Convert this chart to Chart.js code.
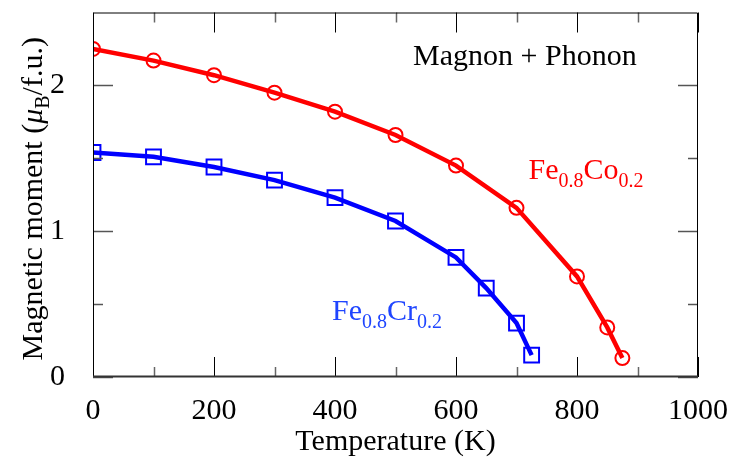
<!DOCTYPE html>
<html>
<head>
<meta charset="utf-8">
<script src="https://cdn.jsdelivr.net/npm/chart.js@4.4.0/dist/chart.umd.min.js"></script>
<style>
  html, body { margin: 0; padding: 0; background: #fff; }
  #wrap { width: 733px; height: 463px; position: relative; }
</style>
</head>
<body>
<div id="wrap"><canvas id="c" width="733" height="463"></canvas></div>
<script>
// Fe0.8Co0.2
const coTemps = [0, 100, 200, 300, 400, 500, 600, 700, 800, 850, 875];
const coMoment = [2.25, 2.17, 2.07, 1.95, 1.82, 1.66, 1.45, 1.16, 0.69, 0.34, 0.13];
// Fe0.8Cr0.2
const crTemps = [0, 100, 200, 300, 400, 500, 600, 650, 700, 725];
const crMoment = [1.54, 1.51, 1.44, 1.35, 1.23, 1.07, 0.82, 0.61, 0.37, 0.15];

const xTicks = [0, 200, 400, 600, 800, 1000];
const xMinor = [100, 300, 500, 700, 900];
const yTicks = [0, 1, 2];
const yMinor = [0.5, 1.5];

const FONT = '"Liberation Serif", "DejaVu Serif", serif';

const pts = (xs, ys) => xs.map((x, i) => ({ x: x, y: ys[i] }));

// ticks pointing inward on all four sides + frame
const frameTicks = {
    id: 'frameTicks',
    afterDatasetsDraw(chart) {
        const { ctx, chartArea: a, scales: { x, y } } = chart;
        ctx.save();
        const tick = (x1, y1, x2, y2, col, w) => {
            ctx.strokeStyle = col; ctx.lineWidth = w;
            ctx.beginPath(); ctx.moveTo(x1, y1); ctx.lineTo(x2, y2); ctx.stroke();
        };
        xTicks.forEach(v => {
            const px = Math.round(x.getPixelForValue(v)) + 0.5;
            tick(px, a.bottom, px, a.bottom - 20, '#000', 1);
            tick(px, a.top, px, a.top + 20, '#000', 1);
        });
        xMinor.forEach(v => {
            const px = Math.round(x.getPixelForValue(v)) + 0.5;
            tick(px, a.bottom, px, a.bottom - 10, '#666', 1.5);
            tick(px, a.top, px, a.top + 10, '#666', 1.5);
        });
        yTicks.forEach(v => {
            const py = Math.round(y.getPixelForValue(v)) + 0.5;
            tick(a.left, py, a.left + 20, py, '#555', 1.5);
            tick(a.right, py, a.right - 20, py, '#555', 1.5);
        });
        yMinor.forEach(v => {
            const py = Math.round(y.getPixelForValue(v)) + 0.5;
            tick(a.left, py, a.left + 10, py, '#555', 1.5);
            tick(a.right, py, a.right - 10, py, '#555', 1.5);
        });
        // frame
        ctx.strokeStyle = '#000'; ctx.lineWidth = 1;
        ctx.beginPath();
        ctx.moveTo(a.left + 0.5, a.bottom);
        ctx.lineTo(a.left + 0.5, a.top + 0.5);
        ctx.lineTo(a.right - 0.5, a.top + 0.5);
        ctx.lineTo(a.right - 0.5, a.bottom);
        ctx.stroke();
        tick(a.left, a.bottom - 0.5, a.right, a.bottom - 0.5, '#333', 2);
        ctx.restore();
    }
};

// draws a run of [text, isSub, isItalic] pieces starting at (px, py)
function drawRuns(ctx, parts, px, py, size, subSize, subDrop) {
    let cx = px;
    parts.forEach(([t, sub, it]) => {
        ctx.font = (it ? 'italic ' : '') + (sub ? subSize : size) + 'px ' + FONT;
        ctx.fillText(t, cx, py + (sub ? subDrop : 0));
        cx += ctx.measureText(t).width;
    });
    return cx - px;
}

function runsWidth(ctx, parts, size, subSize) {
    let w = 0;
    parts.forEach(([t, sub, it]) => {
        ctx.font = (it ? 'italic ' : '') + (sub ? subSize : size) + 'px ' + FONT;
        w += ctx.measureText(t).width;
    });
    return w;
}

// text labels inside the plot and the y axis title, with subscripts
const labels = {
    id: 'labels',
    afterDraw(chart) {
        const { ctx, chartArea: a, scales: { x, y } } = chart;
        ctx.save();
        ctx.textBaseline = 'alphabetic';
        ctx.fillStyle = '#000';
        drawRuns(ctx, [['Magnon + Phonon']], x.getPixelForValue(529), y.getPixelForValue(2.14), 30, 20, 8);
        ctx.fillStyle = '#ff0000';
        drawRuns(ctx, [['Fe'], ['0.8', 1], ['Co'], ['0.2', 1]], x.getPixelForValue(720), y.getPixelForValue(1.36), 30, 20, 8);
        ctx.fillStyle = '#1f45ff';
        drawRuns(ctx, [['Fe'], ['0.8', 1], ['Cr'], ['0.2', 1]], x.getPixelForValue(395), y.getPixelForValue(0.39), 30, 20, 8);

        // y axis title
        const title = [['Magnetic moment ('], ['\u03bc', 0, 1], ['B', 1], ['/f.u.)']];
        const w = runsWidth(ctx, title, 30, 20);
        ctx.fillStyle = '#000';
        ctx.translate(42, (a.top + a.bottom) / 2 + 4);
        ctx.rotate(-Math.PI / 2);
        drawRuns(ctx, title, -w / 2, 0, 30, 20, 7);
        ctx.restore();
    }
};

new Chart(document.getElementById('c'), {
    type: 'scatter',
    data: {
        datasets: [
            {
                label: 'Fe0.8Co0.2',
                data: pts(coTemps, coMoment),
                showLine: true,
                borderColor: '#ff0000',
                borderWidth: 4.5,
                pointStyle: 'circle',
                pointRadius: 7,
                pointBorderWidth: 2,
                pointBorderColor: '#ff0000',
                pointBackgroundColor: 'rgba(0,0,0,0)',
                tension: 0
            },
            {
                label: 'Fe0.8Cr0.2',
                data: pts(crTemps, crMoment),
                showLine: true,
                borderColor: '#0000ff',
                borderWidth: 4.5,
                pointStyle: 'rect',
                pointRadius: 10.5,
                pointBorderWidth: 2,
                pointBorderColor: '#0000ff',
                pointBackgroundColor: 'rgba(0,0,0,0)',
                tension: 0
            }
        ]
    },
    options: {
        responsive: false,
        animation: false,
        layout: { padding: { top: 9.5, right: 35, left: 0, bottom: 0 } },
        plugins: { legend: { display: false }, tooltip: { enabled: false } },
        scales: {
            x: {
                type: 'linear',
                min: 0, max: 1000,
                afterBuildTicks: s => { s.ticks = xTicks.map(v => ({ value: v })); },
                afterFit: s => { s.height = 86; s.paddingLeft = 0; s.paddingRight = 0; },
                grid: { display: false },
                border: { display: false },
                ticks: {
                    color: '#000', padding: 8, maxRotation: 0,
                    font: { family: FONT, size: 30 },
                    callback: v => String(v)
                },
                title: {
                    display: true, text: 'Temperature (K)', color: '#000',
                    font: { family: FONT, size: 30 }, padding: { top: 0, bottom: 3 }
                }
            },
            y: {
                type: 'linear',
                min: 0, max: 2.5,
                afterBuildTicks: s => { s.ticks = yTicks.map(v => ({ value: v })); },
                afterFit: s => { s.width = 93; s.paddingTop = 0; s.paddingBottom = 0; },
                grid: { display: false },
                border: { display: false },
                ticks: {
                    color: '#000', padding: 20,
                    font: { family: FONT, size: 30 },
                    callback: v => String(v)
                },
                title: { display: false }
            }
        }
    },
    plugins: [frameTicks, labels]
});
</script>
</body>
</html>
